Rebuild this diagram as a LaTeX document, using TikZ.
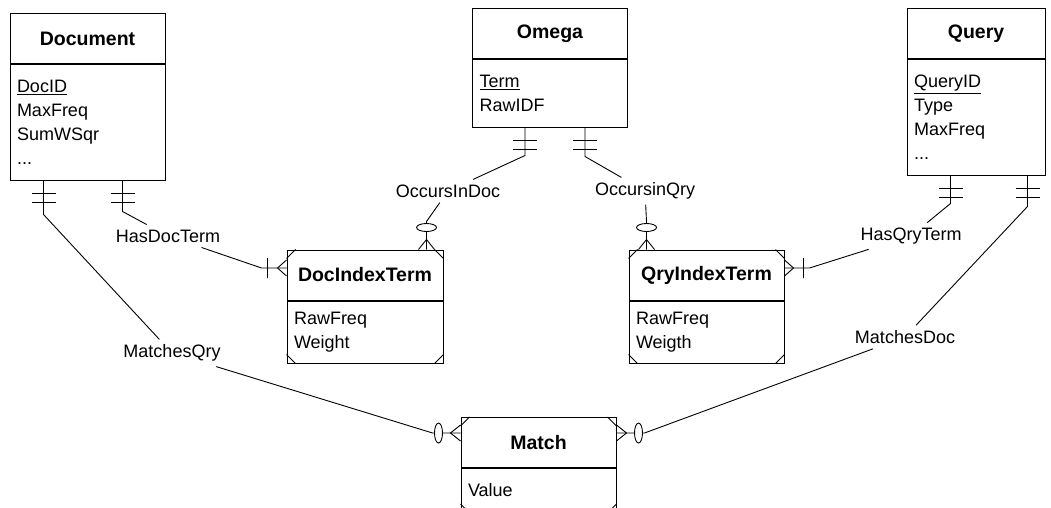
\documentclass[tikz,border=0pt]{standalone}
\usepackage{fontspec}
\setmainfont{Liberation Sans}
\usetikzlibrary{positioning}

\tikzset{
  ent/.style={draw, line width=1pt, minimum width=155pt, inner sep=0pt},
  enthead/.style={ent, minimum height=50pt, font=\fontsize{19.5}{23}\selectfont\bfseries},
  entbody/.style={ent, inner xsep=7pt, text width=141pt, align=left},
  rel/.style={line width=0.9pt},
  rellabel/.style={inner sep=5pt},
  % cardinality marks, drawn for a line coming from above
  oneonly/.pic={\draw[rel] (-12,13) -- (12,13) (-12,22) -- (12,22);},
  zeromany/.pic={\draw[rel] (-8,0) -- (0,-10) -- (8,0);
    \draw[rel, fill=white] (0,-22) ellipse [x radius=10, y radius=4];},
  onemany/.pic={\draw[rel] (-8,0) -- (0,-9) -- (8,0) (-10,-19) -- (10,-19);}
}

\begin{document}
\begin{tikzpicture}[x=1pt, y=-1pt, font=\fontsize{18}{24}\selectfont]
\useasboundingbox (0,0) rectangle (1051,508);
\clip (0,0) rectangle (1051,508);

% Entidades
\node [enthead] at (87.5,39) (dochead) {Document};
\node [entbody, minimum height=115pt, below=0pt of dochead] (docbody) {\underline{DocID}\\ MaxFreq\\ SumWSqr\\ ...};

\node [enthead] at (550,34) (omhead) {Omega};
\node [entbody, minimum height=67pt, below=0pt of omhead] (ombody) {\underline{Term}\\ RawIDF};

\node [enthead, minimum width=138pt] at (976,34) (qhead) {Query};
\node [entbody, minimum width=138pt, text width=124pt, minimum height=115pt, below=0pt of qhead] (qbody) {\underline{QueryID}\\ Type\\ MaxFreq\\ ...};

\node [enthead, minimum width=156pt] at (365,275) (dihead) {DocIndexTerm};
\node [entbody, minimum width=156pt, text width=142pt, minimum height=62pt, below=0pt of dihead] (dibody) {RawFreq\\ Weight};

\node [enthead] at (706.5,275) (qihead) {QryIndexTerm};
\node [entbody, minimum height=62pt, below=0pt of qihead] (qibody) {RawFreq\\ Weigth};

\node [enthead] at (538.5,442.5) (mhead) {Match};
\node [entbody, minimum height=44pt, below=0pt of mhead] (mbody) {Value};

% Puntos de union
\coordinate (docL) at ([xshift=34pt]docbody.south west);
\coordinate (docR) at ([xshift=113pt]docbody.south west);
\coordinate (omL) at ([xshift=53pt]ombody.south west);
\coordinate (omR) at ([xshift=113pt]ombody.south west);
\coordinate (qL) at ([xshift=44pt]qbody.south west);
\coordinate (qR) at ([xshift=121pt]qbody.south west);
\coordinate (diL) at ([yshift=7pt]dihead.west);
\coordinate (diT) at ([xshift=-17pt]dihead.north east);
\coordinate (qiT) at ([xshift=18pt]qihead.north west);
\coordinate (qiR) at ([yshift=7pt]qihead.east);
\coordinate (mL) at ([yshift=9.5pt]mhead.west);
\coordinate (mR) at ([yshift=9.5pt]mhead.east);

% Relaciones
\node [rellabel] at (168,236) (hasdoc) {HasDocTerm};
\node [rellabel] at (448,191) (occdoc) {OccursInDoc};
\node [rellabel] at (645,191) (occqry) {OccursinQry};
\node [rellabel] at (911,236) (hasqry) {HasQryTerm};
\node [rellabel] at (172,353) (matqry) {MatchesQry};
\node [rellabel] at (905,337) (matdoc) {MatchesDoc};

\draw[rel] (docR) -- ++(0,31) -- (hasdoc) -- ([xshift=-25pt]diL) -- (diL);
\draw[rel] (omL) -- ++(0,28) -- (occdoc) -- ([yshift=28pt]diT) -- (diT);
\draw[rel] (omR) -- ++(0,29) -- (occqry) -- ([yshift=28pt]qiT) -- (qiT);
\draw[rel] (qL) -- ++(0,28) -- (hasqry) -- ([xshift=25pt]qiR) -- (qiR);
\draw[rel] (docL) -- ++(0,34) -- (matqry) -- ([xshift=-28pt]mL) -- (mL);
\draw[rel] (qR) -- ++(0,31) -- (matdoc) -- ([xshift=28pt]mR) -- (mR);

% Cardinalidad
\pic at (docL) {oneonly};
\pic at (docR) {oneonly};
\pic at (omL) {oneonly};
\pic at (omR) {oneonly};
\pic at (qL) {oneonly};
\pic at (qR) {oneonly};
\pic at (diT) {zeromany};
\pic at (qiT) {zeromany};
\pic[rotate=90] at (mL) {zeromany};
\pic[rotate=-90] at (mR) {zeromany};
\pic[rotate=90] at (diL) {onemany};
\pic[rotate=-90] at (qiR) {onemany};

% Esquinas de entidades dependientes
\foreach \h/\b in {dihead/dibody, qihead/qibody, mhead/mbody}
  \draw[rel] ([yshift=-9pt]\h.north west) -- ([xshift=9pt]\h.north west)
             ([yshift=-9pt]\h.north east) -- ([xshift=-9pt]\h.north east)
             ([yshift=9pt]\b.south west) -- ([xshift=9pt]\b.south west)
             ([yshift=9pt]\b.south east) -- ([xshift=-9pt]\b.south east);

\end{tikzpicture}
\end{document}
